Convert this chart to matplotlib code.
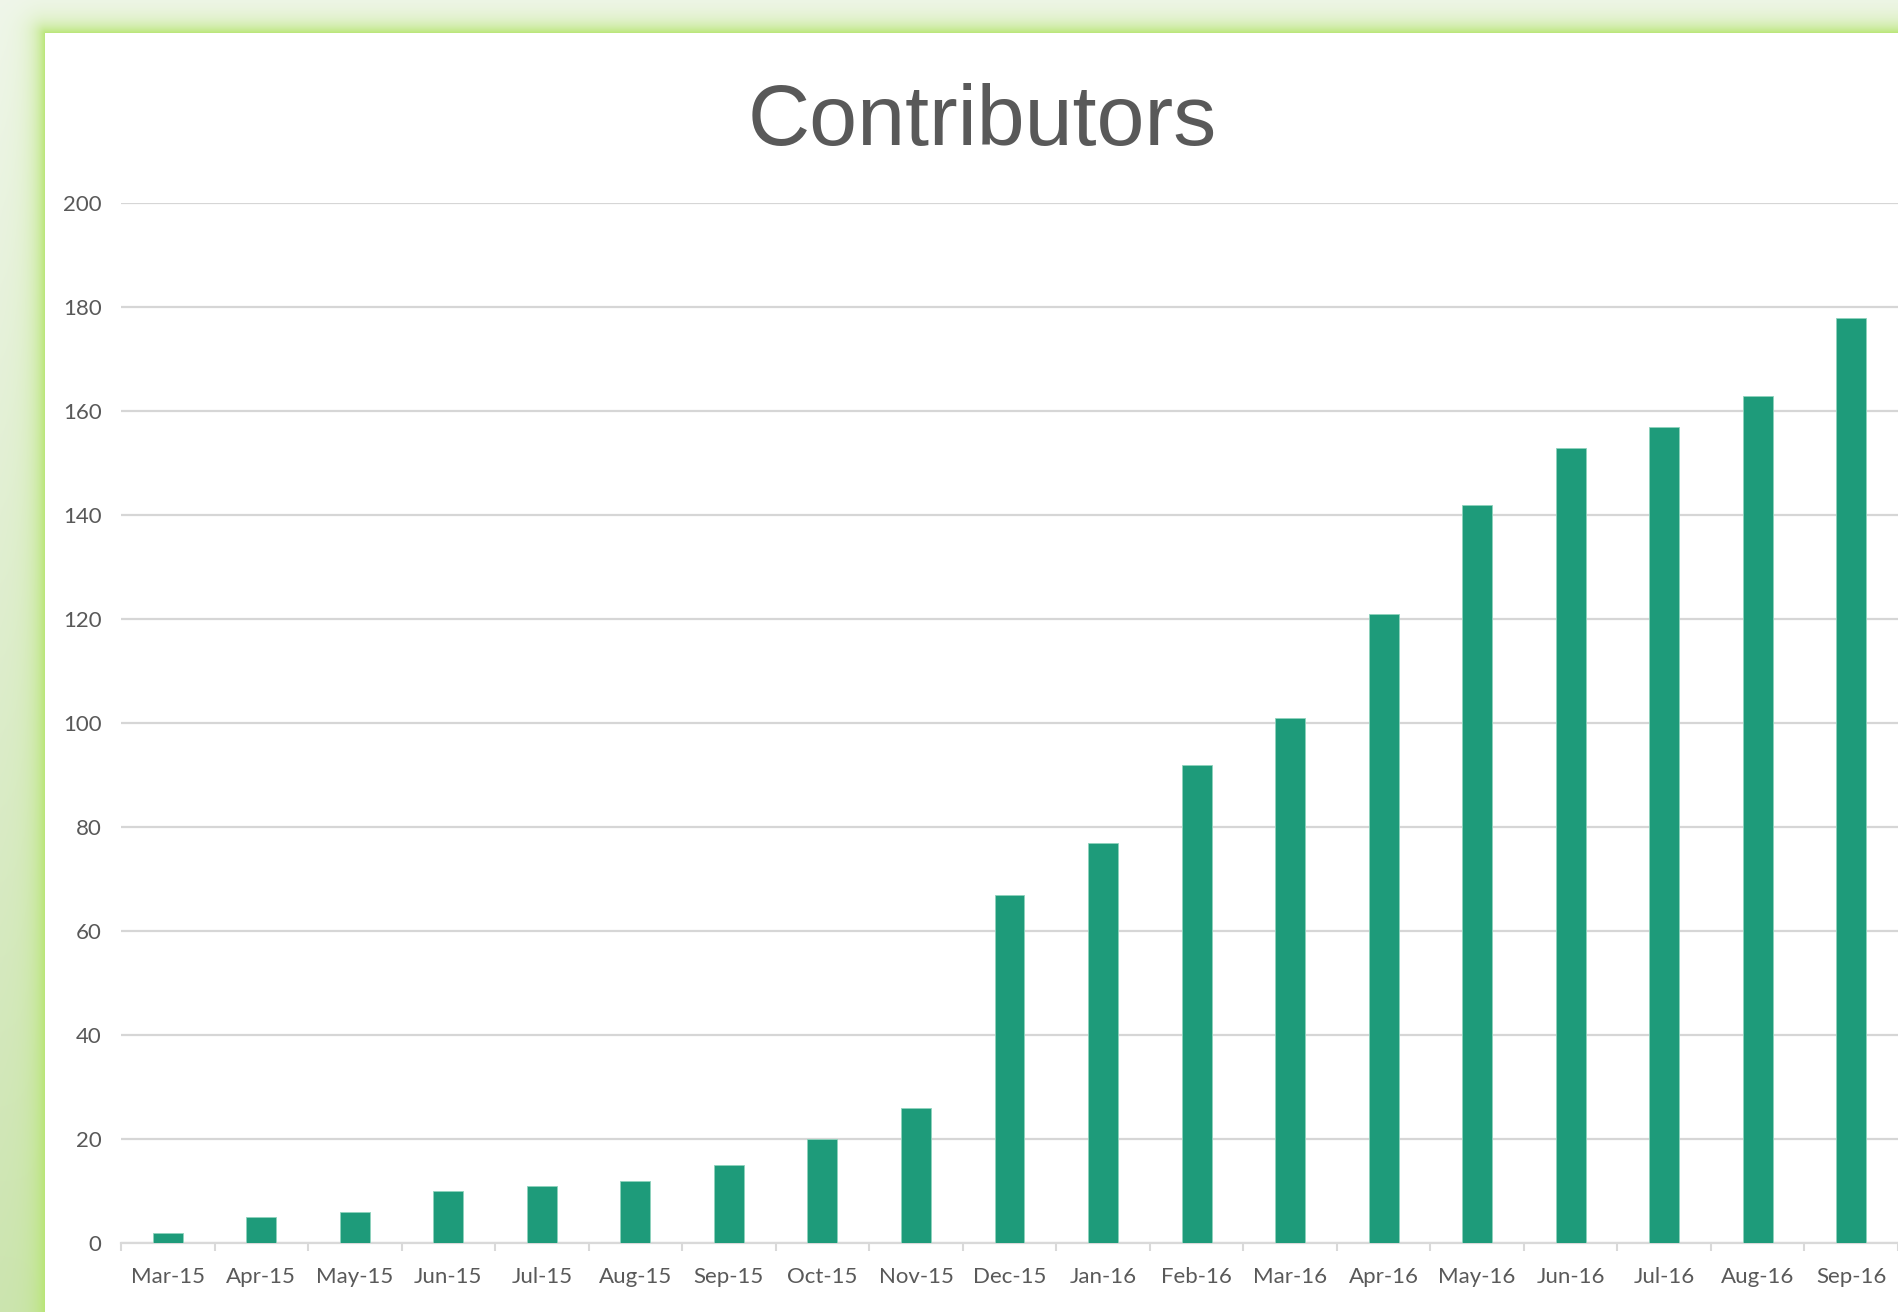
import numpy as np
import matplotlib
matplotlib.use('Agg')
import matplotlib.pyplot as plt

# Monthly contributor counts
months = ['Mar-15', 'Apr-15', 'May-15', 'Jun-15', 'Jul-15', 'Aug-15', 'Sep-15',
          'Oct-15', 'Nov-15', 'Dec-15', 'Jan-16', 'Feb-16', 'Mar-16', 'Apr-16',
          'May-16', 'Jun-16', 'Jul-16', 'Aug-16', 'Sep-16']
contributors = [2, 5, 6, 10, 11, 12, 15, 20, 26, 67, 77, 92, 101, 121,
                142, 153, 157, 163, 178]
y_ticks = [0, 20, 40, 60, 80, 100, 120, 140, 160, 180, 200]

W, H = 1899, 1312
fig = plt.figure(figsize=(W / 100, H / 100), dpi=100)

# Background: light green gradient with a glow around the white panel
yy, xx = np.mgrid[0:H, 0:W]
t = (yy / H)[..., None]
top_col = np.array([0.94, 0.965, 0.92])
bot_col = np.array([0.80, 0.895, 0.69])
base = top_col * (1 - t) + bot_col * t
px, py = 45, 33
d = np.sqrt(np.clip(px - xx, 0, None) ** 2 + np.clip(py - yy, 0, None) ** 2)
glow = np.exp(-d / 11.0)[..., None]
glow_col = np.array([0.72, 0.90, 0.45])
bg = base * (1 - glow) + glow_col * glow
inside = (xx >= px) & (yy >= py)
bg[inside] = 1.0
bg_ax = fig.add_axes([0, 0, 1, 1], zorder=-1)
bg_ax.imshow(bg, aspect='auto', interpolation='nearest')
bg_ax.axis('off')

# Main chart
ax = fig.add_axes([121 / W, (H - 1243.3) / H, (1898 - 121) / W, (1243.3 - 203.3) / H])
ax.patch.set_alpha(0)
x = np.arange(len(months))
ax.bar(x, contributors, width=0.32, color='#1e9b7a', edgecolor='#8fd3bd',
       linewidth=0.6, zorder=3)

ax.set_xlim(-0.5, len(months) - 0.5)
ax.set_ylim(0, 200)
ax.set_yticks(y_ticks)
ax.set_xticks(x)
ax.set_xticklabels(months)
ax.set_xticks(np.arange(len(months) + 1) - 0.5, minor=True)

label_font = 'Lato'
ax.tick_params(axis='y', length=0, pad=14, labelsize=16, labelcolor='#595959')
ax.tick_params(axis='x', which='major', length=0, pad=17, labelsize=16,
               labelcolor='#595959')
ax.tick_params(axis='x', which='minor', length=6, width=1.5, color='#d9d9d9')
for lab in ax.get_xticklabels() + ax.get_yticklabels():
    lab.set_fontfamily(label_font)

ax.yaxis.grid(True, color='#d6d6d6', linewidth=1.6, zorder=0)
ax.set_axisbelow(True)
for side in ['top', 'right', 'left']:
    ax.spines[side].set_visible(False)
ax.spines['bottom'].set_color('#d9d9d9')
ax.spines['bottom'].set_linewidth(1.6)

fig.text(982 / W, 1 - 123 / H, 'Contributors', ha='center', va='center',
         fontsize=62, color='#595959', fontfamily='Liberation Sans')

plt.savefig('out.png', dpi=100)
plt.close()
